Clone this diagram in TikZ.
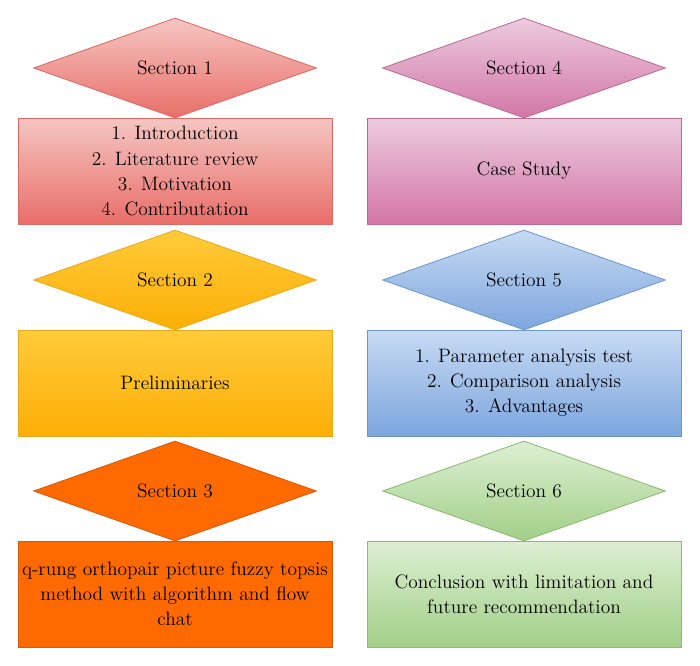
\documentclass[tikz,border=0pt]{standalone}
\usetikzlibrary{shapes.geometric}

\definecolor{redtop}{HTML}{F5C6C2}
\definecolor{redbot}{HTML}{E96E69}
\definecolor{redline}{HTML}{DA6A63}
\definecolor{yeltop}{HTML}{FFCB3A}
\definecolor{yelbot}{HTML}{FCAE06}
\definecolor{yelline}{HTML}{E8AA1C}
\definecolor{orafill}{HTML}{FF6A00}
\definecolor{oraline}{HTML}{D9580A}
\definecolor{pintop}{HTML}{ECCBDE}
\definecolor{pinbot}{HTML}{D376A7}
\definecolor{pinline}{HTML}{B86C96}
\definecolor{blutop}{HTML}{C7DAF3}
\definecolor{blubot}{HTML}{7DA6DE}
\definecolor{bluline}{HTML}{6F96CB}
\definecolor{gretop}{HTML}{DDEFD3}
\definecolor{grebot}{HTML}{A2CF88}
\definecolor{greline}{HTML}{8DBB73}

\begin{document}
\begin{tikzpicture}
	\tikzstyle{sec}=[diamond,minimum width=7.075cm,minimum height=2.5cm,inner sep=0pt,line width=0.6pt,font=\fontsize{13.8pt}{17.8pt}\selectfont]
	\tikzstyle{box}=[rectangle,minimum width=7.85cm,minimum height=2.65cm,inner sep=0pt,line width=0.6pt,align=center,font=\fontsize{13.8pt}{17.8pt}\selectfont]
	\tikzstyle{red}=[draw=redline,top color=redtop,bottom color=redbot]
	\tikzstyle{yel}=[draw=yelline,top color=yeltop,bottom color=yelbot]
	\tikzstyle{ora}=[draw=oraline,fill=orafill]
	\tikzstyle{pin}=[draw=pinline,top color=pintop,bottom color=pinbot]
	\tikzstyle{blu}=[draw=bluline,top color=blutop,bottom color=blubot]
	\tikzstyle{gre}=[draw=greline,top color=gretop,bottom color=grebot]

	\useasboundingbox (0,0) rectangle (17.5,-16.625);

	% left column
	\node[sec,red] (S1) at (4.375,-1.7) {Section 1};
	\node[box,red] (B1) at (4.375,-4.275)
	{
		1. Introduction\\
		2. Literature review\\
		3. Motivation\\
		4. Contributation
	};
	\node[sec,yel] (S2) at (4.375,-7.0) {Section 2};
	\node[box,yel] (B2) at (4.375,-9.575) {Preliminaries};
	\node[sec,ora] (S3) at (4.375,-12.275) {Section 3};
	\node[box,ora] (B3) at (4.375,-14.85)
	{
		q-rung orthopair picture fuzzy topsis\\
		method with algorithm and flow\\
		chat
	};

	% right column
	\node[sec,pin] (S4) at (13.1,-1.7) {Section 4};
	\node[box,pin] (B4) at (13.1,-4.275) {Case Study};
	\node[sec,blu] (S5) at (13.1,-7.0) {Section 5};
	\node[box,blu] (B5) at (13.1,-9.575)
	{
		1. Parameter analysis test\\
		2. Comparison analysis\\
		3. Advantages
	};
	\node[sec,gre] (S6) at (13.1,-12.275) {Section 6};
	\node[box,gre] (B6) at (13.1,-14.85)
	{
		Conclusion with limitation and\\
		future recommendation
	};
\end{tikzpicture}
\end{document}
